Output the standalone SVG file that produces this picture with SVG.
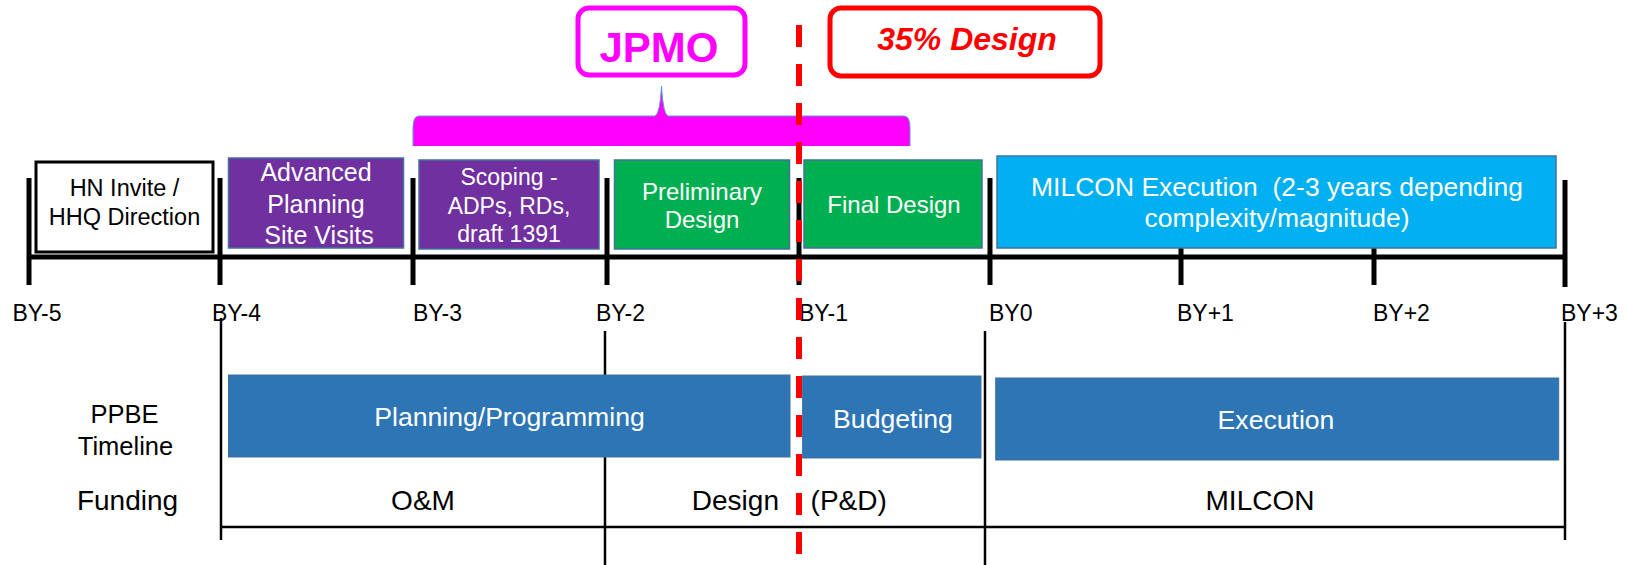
<svg xmlns="http://www.w3.org/2000/svg" width="1629" height="565" viewBox="0 0 1629 565">
<style>
text{font-family:"Liberation Sans",Arial,sans-serif;}
.w{fill:#fff;text-anchor:middle;}
.k{fill:#000;}
.m{text-anchor:middle;}
.tick{stroke:#000;stroke-width:5;}
.thin{stroke:#000;stroke-width:2.5;fill:none;}
.purple{fill:#7030A0;stroke:#41719C;stroke-width:1.5;}
.green{fill:#00B050;stroke:#41719C;stroke-width:1.5;}
.cyan{fill:#00B0F0;stroke:#41719C;stroke-width:1.5;}
.ppbe{fill:#2E75B6;stroke:#41719C;stroke-width:1;}
.yr{font-size:23px;fill:#000;}
.fund{font-size:28px;fill:#000;}
</style>
<rect width="1629" height="565" fill="#fff"/>
<g id="connectors">
<line class="tick" x1="29" y1="257" x2="1565" y2="257"/>
<line class="tick" x1="29" y1="178" x2="29" y2="285"/>
<line class="tick" x1="220" y1="178" x2="220" y2="285"/>
<line class="tick" x1="413" y1="178" x2="413" y2="285"/>
<line class="tick" x1="607" y1="178" x2="607" y2="285"/>
<line class="tick" x1="799" y1="178" x2="799" y2="285"/>
<line class="tick" x1="990" y1="178" x2="990" y2="285"/>
<line class="tick" x1="1181" y1="178" x2="1181" y2="285"/>
<line class="tick" x1="1374" y1="178" x2="1374" y2="285"/>
<line class="tick" x1="1565" y1="180" x2="1565" y2="287"/>
<line class="thin" x1="221" y1="318" x2="221" y2="540"/>
<line class="thin" x1="605" y1="331" x2="605" y2="565"/>
<line class="thin" x1="985" y1="331" x2="985" y2="565"/>
<line class="thin" x1="1565" y1="322" x2="1565" y2="540"/>
<line class="thin" x1="221" y1="527" x2="1565" y2="527"/>
</g>
<g id="hn">
<rect x="36" y="162" width="177" height="90" fill="#fff" stroke="#000" stroke-width="3"/>
<text class="k m" x="124.5" y="196" font-size="23.5">HN Invite /</text>
<text class="k m" x="124.5" y="225" font-size="23.5">HHQ Direction</text>
</g>
<g id="advanced">
<rect class="purple" x="228.5" y="158" width="175" height="90"/>
<text class="w" x="316" y="181" font-size="25">Advanced</text>
<text class="w" x="316" y="213" font-size="25">Planning</text>
<text class="w" x="319" y="244" font-size="25">Site Visits</text>
</g>
<g id="scoping">
<rect class="purple" x="419" y="160" width="180" height="89"/>
<text class="w" x="509" y="185" font-size="23">Scoping -</text>
<text class="w" x="509" y="214" font-size="23">ADPs, RDs,</text>
<text class="w" x="509" y="242" font-size="23">draft 1391</text>
</g>
<g id="preliminary">
<rect class="green" x="614.5" y="160" width="175" height="89"/>
<text class="w" x="702" y="200" font-size="24">Preliminary</text>
<text class="w" x="702" y="228" font-size="24">Design</text>
</g>
<g id="final">
<rect class="green" x="804" y="160" width="178" height="88"/>
<text class="w" x="894" y="213" font-size="24">Final Design</text>
</g>
<g id="milcon-exec">
<rect class="cyan" x="997" y="156" width="559" height="92"/>
<text class="w" x="1277" y="196" font-size="26.5" xml:space="preserve">MILCON Execution  (2-3 years depending</text>
<text class="w" x="1277" y="227" font-size="26.5">complexity/magnitude)</text>
</g>
<g id="bracket">
<path d="M413,146 L413,128 Q413,116 419,116 L655,116 Q660,114 661.5,86 Q663,114 668,116 L904,116 Q910,116 910,128 L910,146 Z" fill="#FF00FF"/>
<path d="M413,146 L413,128 Q413,116 419,116 L655,116 Q660,114 661.5,86 Q663,114 668,116 L904,116 Q910,116 910,128 L910,146" fill="none" stroke="#5B9BD5" stroke-width="1"/>
</g>
<g id="jpmo">
<rect x="578" y="8" width="167" height="67" rx="11" fill="#fff" stroke="#FF00FF" stroke-width="5"/>
<text x="659" y="62" font-size="42" font-weight="bold" fill="#FF00FF" text-anchor="middle">JPMO</text>
</g>
<g id="design35">
<rect x="830" y="8" width="270" height="68" rx="11" fill="#fff" stroke="#FF0000" stroke-width="5"/>
<text x="967" y="50" font-size="32" font-weight="bold" font-style="italic" fill="#FF0000" text-anchor="middle">35% Design</text>
</g>
<g id="years">
<text class="yr" x="12.5" y="321">BY-5</text>
<text class="yr" x="212" y="321">BY-4</text>
<text class="yr" x="413" y="321">BY-3</text>
<text class="yr" x="596" y="321">BY-2</text>
<text class="yr" x="799" y="321">BY-1</text>
<text class="yr" x="989" y="321">BY0</text>
<text class="yr" x="1177" y="321">BY+1</text>
<text class="yr" x="1373" y="321">BY+2</text>
<text class="yr" x="1561" y="321">BY+3</text>
</g>
<g id="ppbe-label">
<text class="k m" x="124.5" y="423" font-size="25.5">PPBE</text>
<text class="k m" x="125.5" y="455" font-size="25.5">Timeline</text>
</g>
<g id="planning">
<rect class="ppbe" x="228.5" y="375" width="561.5" height="82"/>
<text class="w" x="509.5" y="426" font-size="26.6">Planning/Programming</text>
</g>
<g id="budgeting">
<rect class="ppbe" x="802.6" y="376" width="178.4" height="82"/>
<text class="w" x="893" y="428" font-size="26.6">Budgeting</text>
</g>
<g id="execution">
<rect class="ppbe" x="995.7" y="378" width="563" height="82"/>
<text class="w" x="1276" y="429" font-size="26.6">Execution</text>
</g>
<g id="funding">
<text class="fund m" x="127.5" y="510">Funding</text>
<text class="fund m" x="423" y="510">O&amp;M</text>
<text class="fund" x="779" y="510" text-anchor="end">Design</text>
<text class="fund" x="810.6" y="510">(P&amp;D)</text>
<text class="fund m" x="1260" y="510">MILCON</text>
</g>
<g id="dashed-35">
<line x1="799" y1="25" x2="799" y2="565" stroke="#FF0000" stroke-width="6" stroke-dasharray="22 17"/>
</g>
</svg>
